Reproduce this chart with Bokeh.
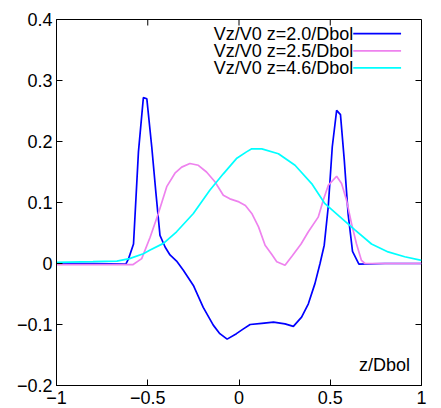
from bokeh.plotting import figure
from bokeh.models import (Range1d, LinearAxis, FixedTicker, CustomJSTickFormatter, Label)
from bokeh.embed import file_html
from bokeh.resources import INLINE

# ---- data ----
x_z20 = [-1.0, -0.8, -0.62, -0.605, -0.578, -0.551, -0.524, -0.505, -0.478, -0.455,
         -0.433, -0.405, -0.378, -0.342, -0.305, -0.25, -0.196, -0.141, -0.105, -0.065,
         -0.014, 0.02, 0.061, 0.125, 0.189, 0.252, 0.298, 0.343, 0.38, 0.416,
         0.444, 0.467, 0.489, 0.511, 0.535, 0.556, 0.577, 0.598, 0.622, 0.657, 0.8, 1.0]
y_z20 = [0.0, 0.0, -0.001, 0.008, 0.032, 0.183, 0.272, 0.27, 0.191, 0.115,
         0.046, 0.027, 0.014, 0.004, -0.011, -0.036, -0.072, -0.101, -0.115, -0.124,
         -0.115, -0.108, -0.1, -0.098, -0.096, -0.099, -0.103, -0.088, -0.066, -0.033,
         0.0, 0.03, 0.093, 0.191, 0.251, 0.244, 0.169, 0.081, 0.02, -0.001, 0.0, 0.0]

x_z25 = [-1.0, -0.8, -0.582, -0.533, -0.487, -0.442, -0.396, -0.351, -0.314, -0.269,
         -0.223, -0.178, -0.132, -0.086, -0.05, 0.0, 0.035, 0.07, 0.107, 0.143,
         0.179, 0.207, 0.252, 0.29, 0.34, 0.38, 0.434, 0.462, 0.489, 0.535,
         0.562, 0.589, 0.617, 0.644, 0.671, 0.69, 0.8, 1.0]
y_z25 = [-0.002, -0.002, -0.002, 0.008, 0.043, 0.082, 0.126, 0.148, 0.158, 0.164,
         0.161, 0.15, 0.134, 0.112, 0.106, 0.101, 0.095, 0.082, 0.06, 0.03,
         0.015, 0.003, -0.003, 0.012, 0.032, 0.052, 0.076, 0.104, 0.128, 0.143,
         0.131, 0.104, 0.065, 0.032, 0.005, 0.0, 0.0, 0.0]

x_z46 = [-1.0, -0.8, -0.669, -0.6, -0.524, -0.487, -0.414, -0.342, -0.25, -0.16,
         -0.086, -0.014, 0.041, 0.07, 0.125, 0.216, 0.307, 0.398, 0.471, 0.544,
         0.635, 0.726, 0.817, 0.908, 1.0]
y_z46 = [0.002, 0.003, 0.004, 0.008, 0.016, 0.022, 0.033, 0.052, 0.082, 0.12,
         0.147, 0.172, 0.183, 0.188, 0.188, 0.18, 0.161, 0.131, 0.098, 0.079,
         0.055, 0.032, 0.019, 0.011, 0.005]

series_names = ["Vz/V0 z=2.0/Dbol", "Vz/V0 z=2.5/Dbol", "Vz/V0 z=4.6/Dbol"]
series_colors = ["#0000ff", "#ee82ee", "#00ffff"]
x_ticks = [-1, -0.5, 0, 0.5, 1]
y_ticks = [-0.2, -0.1, 0, 0.1, 0.2, 0.3, 0.4]
x_label = "z/Dbol"

FONT = "Liberation Sans"
FS = "18px"
X0, X1, Y0, Y1 = -1, 1, -0.2, 0.4
FW, FH = 365, 366
TICK = 6

p = figure(frame_width=FW, frame_height=FH, output_backend="svg", toolbar_location=None,
           x_range=Range1d(X0, X1), y_range=Range1d(Y0, Y1),
           min_border_left=56, min_border_right=20, min_border_top=19, min_border_bottom=23,
           x_axis_type=None, y_axis_type=None)
p.xgrid.visible = False
p.ygrid.visible = False
p.outline_line_color = "black"
p.outline_line_width = 1
p.background_fill_color = "white"
p.border_fill_color = "white"

fmt = CustomJSTickFormatter(code="""
const s = (Math.round(tick*10)/10).toString();
return s.replace('-', '\u2212');
""")

def make_axis(ticks, standoff):
    ax = LinearAxis(ticker=FixedTicker(ticks=ticks), formatter=fmt)
    ax.major_tick_in = TICK
    ax.major_tick_out = 0
    ax.minor_tick_in = 0
    ax.minor_tick_out = 0
    ax.major_tick_line_color = "black"
    ax.axis_line_color = "black"
    ax.major_label_text_font = FONT
    ax.major_label_text_color = "black"
    ax.major_label_text_font_size = FS
    ax.major_label_standoff = standoff
    return ax

p.add_layout(make_axis(x_ticks, 5), "below")
p.add_layout(make_axis(y_ticks, 4), "left")

# mirrored inward ticks on top and right borders (from the tick lists + frame scale)
dy = TICK * (Y1 - Y0) / FH
dx = TICK * (X1 - X0) / FW
p.segment(x0=x_ticks, y0=[Y1] * len(x_ticks), x1=x_ticks, y1=[Y1 - dy] * len(x_ticks),
          line_color="black", line_width=1)
p.segment(x0=[X1] * len(y_ticks), y0=y_ticks, x1=[X1 - dx] * len(y_ticks), y1=y_ticks,
          line_color="black", line_width=1)

xs = [x_z20, x_z25, x_z46]
ys = [y_z20, y_z25, y_z46]
for xv, yv, c in zip(xs, ys, series_colors):
    p.line(xv, yv, line_color=c, line_width=1.7)

# legend (gnuplot style: text right-aligned, sample line to the right, centred on the text)
leg_x_text = 0.626
leg_x_end = 0.888
leg_y = [0.377, 0.3485, 0.3206]
for name, c, yy in zip(series_names, series_colors, leg_y):
    p.add_layout(Label(x=leg_x_text, y=yy, text=name, text_align="right",
                       text_baseline="middle", text_font=FONT,
                       text_font_size=FS, text_color="black"))
    p.line([leg_x_text, leg_x_end], [yy, yy], line_color=c, line_width=1.7)

p.add_layout(Label(x=0.937, y=-0.167, text=x_label, text_align="right",
                   text_baseline="middle", text_font=FONT,
                   text_font_size=FS, text_color="black"))

open("out.html", "w").write(file_html(p, INLINE))
